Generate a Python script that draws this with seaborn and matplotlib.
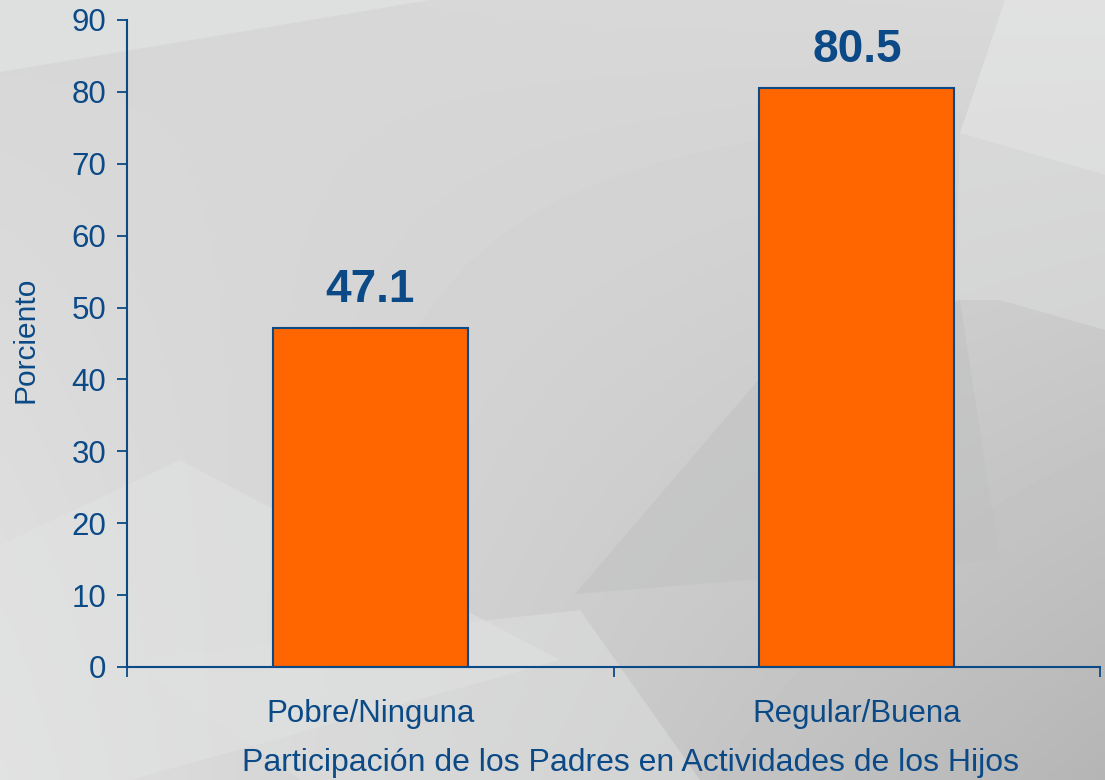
import numpy as np
import matplotlib.pyplot as plt
import seaborn as sns
from matplotlib.patches import Polygon

# datos
categorias = ['Pobre/Ninguna', 'Regular/Buena']
porcentajes = [47.1, 80.5]
marcas_y = np.arange(0, 91, 10)

azul = '#0B4A86'
naranja = '#FF6600'

sns.set_theme(style='white')
plt.rcParams['font.family'] = ['Liberation Sans', 'DejaVu Sans']

fig = plt.figure(figsize=(11.05, 7.8), dpi=100)

# fondo gris con facetas (tipo diapositiva)
bg = fig.add_axes([0, 0, 1, 1], zorder=-10)
bg.set_xlim(0, 1105)
bg.set_ylim(780, 0)
bg.axis('off')
xx, yy = np.meshgrid(np.linspace(0, 1, 220), np.linspace(0, 1, 160))
gris = (0.84 * (1 - xx) * (1 - yy) + 0.85 * xx * (1 - yy)
        + 0.88 * (1 - xx) * yy + 0.71 * xx * yy)
bg.imshow(gris, cmap='gray', vmin=0, vmax=1, extent=(0, 1105, 780, 0),
          aspect='auto', interpolation='bilinear')
facetas = [
    ([(0, 0), (430, 0), (0, 72)], '#e6e7e7'),
    ([(1005, 0), (1105, 0), (1105, 175), (960, 133)], '#e9eaea'),
    ([(960, 133), (1105, 175), (1105, 330), (1000, 300), (955, 300)], '#dddede'),
    ([(760, 378), (960, 300), (1000, 560), (575, 594)], '#c0c1c1'),
    ([(0, 545), (180, 460), (560, 660), (130, 780), (0, 780)], '#e2e3e3'),
    ([(130, 660), (580, 610), (700, 780), (300, 780)], '#dfe0e0'),
]
for pts, col in facetas:
    bg.add_patch(Polygon(pts, closed=True, facecolor=col, edgecolor='none', alpha=0.5))

# ejes principales
ax = fig.add_axes([127 / 1105, 113 / 780, 973 / 1105, 647 / 780])
ax.patch.set_alpha(0)

sns.barplot(x=categorias, y=porcentajes, color=naranja, saturation=1,
            width=0.4, edgecolor=azul, linewidth=1.5, ax=ax)

for i, v in enumerate(porcentajes):
    ax.annotate(f'{v}', (i, v), xytext=(0, 19), textcoords='offset points',
                ha='center', va='baseline', fontsize=33, fontweight='bold', color=azul)

ax.set_xlim(-0.5, 1.5)
ax.set_ylim(0, 90)
ax.set_yticks(marcas_y)
ax.set_xticks([-0.5, 0.5, 1.5], minor=True)

sns.despine(ax=ax)
for lado in ['left', 'bottom']:
    ax.spines[lado].set_color(azul)
    ax.spines[lado].set_linewidth(1.5)

ax.tick_params(axis='y', which='major', direction='out', length=7, width=1.3,
               color=azul, labelcolor=azul, labelsize=22.5, pad=8, left=True)
ax.tick_params(axis='x', which='major', length=0, labelcolor=azul, labelsize=22.5, pad=23)
ax.tick_params(axis='x', which='minor', direction='out', length=7, width=1.3,
               color=azul, bottom=True)

ax.set_ylabel('Porciento', fontsize=21.5, color=azul)
ax.yaxis.set_label_coords(-0.09, 0.505)
ax.set_xlabel('Participación de los Padres en Actividades de los Hijos',
              fontsize=23, color=azul)
ax.xaxis.set_label_coords(0.517, -0.125)

fig.savefig('out.png', dpi=100)
